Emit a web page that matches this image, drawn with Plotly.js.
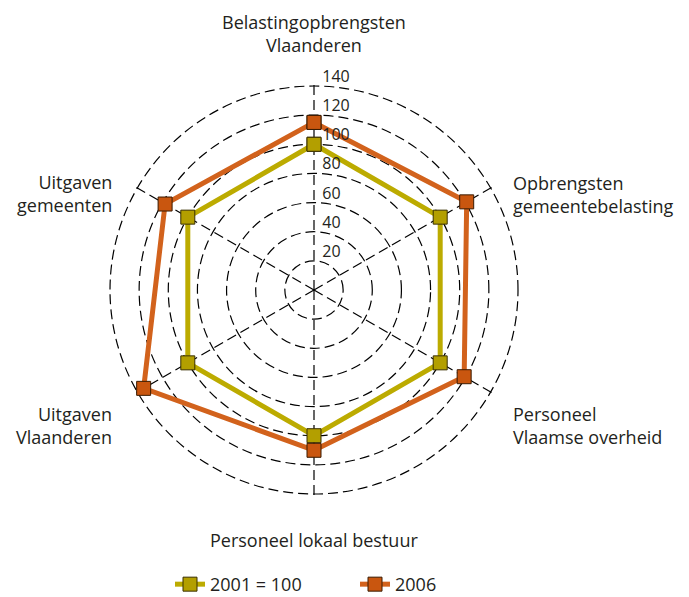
<!DOCTYPE html>
<html>
<head>
<meta charset="utf-8">
<script src="https://cdn.plot.ly/plotly-3.0.1.min.js"></script>
<style>html,body{margin:0;padding:0;background:#fff;}#chart{width:689px;height:597px;}</style>
</head>
<body>
<div id="chart"></div>
<script>
var categories = [
  "Belastingopbrengsten<br>Vlaanderen",
  "Opbrengsten<br>gemeentebelasting",
  "Personeel<br>Vlaamse overheid",
  "Personeel lokaal bestuur",
  "Uitgaven<br>Vlaanderen",
  "Uitgaven<br>gemeenten"
];
var series2001 = [100, 100, 100, 100, 100, 100];
var series2006 = [115, 121, 119, 110, 135, 118];
var seriesNames = ["2001 = 100", "2006"];
var radialTicks = [20, 40, 60, 80, 100, 120, 140];
var radialTickLabels = ["20", "40", "60", "80", "100", "120", "140"];

// layout helpers (positions of the category labels, in pixels)
var W = 689, H = 597;
var labelPlacement = [
  {x: 314, y: 34, xanchor: "center", align: "center"},
  {x: 511, y: 195, xanchor: "left", align: "left"},
  {x: 511, y: 425, xanchor: "left", align: "left"},
  {x: 314, y: 540, xanchor: "center", align: "center"},
  {x: 114, y: 425, xanchor: "right", align: "right"},
  {x: 114, y: 194, xanchor: "right", align: "right"}
];

function closed(a) { return a.concat([a[0]]); }

var traces = [
  {
    type: "scatterpolar", mode: "lines+markers", name: seriesNames[0],
    r: closed(series2001), theta: closed(categories),
    line: {color: "#bcab00", width: 5},
    marker: {symbol: "square", size: 14, color: "#b39f00", line: {color: "#3a3000", width: 1}},
    hoverinfo: "skip", cliponaxis: false
  },
  {
    type: "scatterpolar", mode: "lines+markers", name: seriesNames[1],
    r: closed(series2006), theta: closed(categories),
    line: {color: "#d2621c", width: 5},
    marker: {symbol: "square", size: 14, color: "#c9560f", line: {color: "#3a1a00", width: 1}},
    hoverinfo: "skip", cliponaxis: false
  },
  {
    type: "scatterpolar", mode: "text", showlegend: false,
    r: radialTicks, theta: radialTicks.map(function () { return categories[0]; }),
    text: radialTickLabels.map(function (t) { return "\u00a0\u00a0" + t; }),
    textposition: "top right",
    textfont: {family: "Open Sans, sans-serif", size: 16, color: "#231f20"},
    hoverinfo: "skip", cliponaxis: false
  }
];

var annotations = categories.map(function (c, i) {
  var p = labelPlacement[i];
  return {
    text: c, xref: "paper", yref: "paper", x: p.x / W, y: 1 - p.y / H,
    xanchor: p.xanchor, yanchor: "middle", align: p.align, showarrow: false,
    font: {family: "Open Sans, sans-serif", size: 18, color: "#231f20"}
  };
});

var rMax = 141.5;
var R = 204 * rMax / 140;
var layout = {
  width: W, height: H,
  margin: {l: 0, r: 0, t: 0, b: 0, autoexpand: false},
  paper_bgcolor: "#fff",
  font: {family: "Open Sans, sans-serif", size: 16, color: "#231f20"},
  showlegend: true,
  annotations: annotations,
  legend: {orientation: "h", x: 170 / W, xanchor: "left", y: -0.01, yanchor: "bottom",
           font: {size: 18, color: "#231f20"}, entrywidth: 140, entrywidthmode: "pixels"},
  polar: {
    domain: {x: [(314 - R) / W, (314 + R) / W], y: [(H - 290 - R) / H, (H - 290 + R) / H]},
    bgcolor: "rgba(0,0,0,0)",
    radialaxis: {
      range: [0, rMax], tickvals: radialTicks, angle: 90,
      showline: false, showgrid: true, gridcolor: "#000", gridwidth: 1.2, griddash: "10px,5px",
      ticks: "", showticklabels: false
    },
    angularaxis: {
      direction: "clockwise", rotation: 90, type: "category",
      categoryarray: categories,
      showline: false, showgrid: true, gridcolor: "#000", gridwidth: 1.2, griddash: "10px,5px",
      ticks: "", showticklabels: false
    }
  }
};

Plotly.newPlot("chart", traces, layout, {displayModeBar: false, staticPlot: true});
</script>
</body>
</html>
